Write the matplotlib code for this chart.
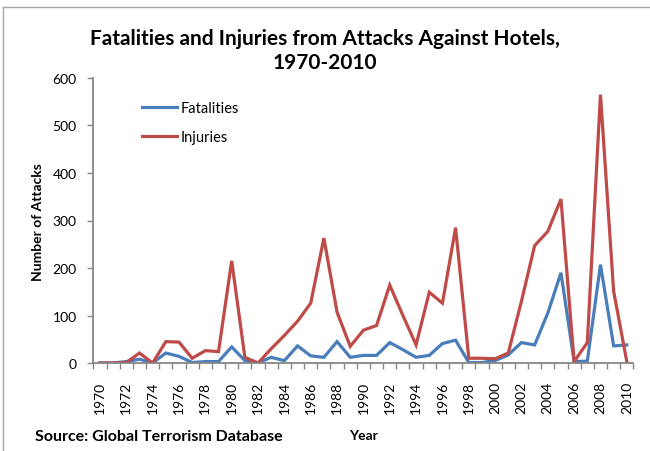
import numpy as np
import matplotlib
matplotlib.use("Agg")
import matplotlib.pyplot as plt
from matplotlib.lines import Line2D

plt.rcParams['font.family'] = ['Lato', 'DejaVu Sans']

# data
years = list(range(1970, 2011))
fatalities = [0, 0, 3, 8, 0, 21, 14, 1, 3, 3,
              34, 5, 0, 12, 5, 36, 15, 12, 45, 12,
              16, 16, 43, 28, 12, 16, 41, 48, 1, 1,
              5, 17, 43, 38, 105, 190, 3, 4, 207, 36,
              38]
injuries = [0, 0, 1, 21, 0, 45, 44, 10, 26, 24,
            215, 12, 0, 30, 58, 88, 126, 263, 107, 35,
            69, 79, 164, 100, 38, 149, 126, 285, 10, 10,
            9, 21, 130, 247, 277, 345, 3, 43, 565, 151,
            3]
year_labels = years[::2]
y_ticks = [0, 100, 200, 300, 400, 500, 600]

W, H = 650, 452
fig = plt.figure(figsize=(W / 100, H / 100), dpi=100)
ax = fig.add_axes([93.4 / W, 1 - 364 / H, 540 / W, 285 / H])

ax.plot(years, fatalities, color='#4A7EBB', lw=2.3, label='Fatalities', solid_joinstyle='miter')
ax.plot(years, injuries, color='#BE4B48', lw=2.3, label='Injuries', solid_joinstyle='miter')

ax.set_xlim(1969.5, 2010.5)
ax.set_ylim(0, 600)

# axes styling (Excel look)
for s in ['top', 'right']:
    ax.spines[s].set_visible(False)
for s in ['left', 'bottom']:
    ax.spines[s].set_color('#868686')
    ax.spines[s].set_linewidth(1.3)

ax.set_yticks(y_ticks)
ax.tick_params(axis='y', length=4, width=1, color='#868686', pad=8, labelsize=10)
ax.set_xticks(year_labels)
ax.set_xticklabels([str(y) for y in year_labels], rotation=90, va='top')
ax.tick_params(axis='x', which='major', length=0, pad=13, labelsize=10)
ax.set_xticks(np.arange(1969.5, 2011, 1), minor=True)
ax.tick_params(axis='x', which='minor', length=4, width=1, color='#868686')

ax.legend(loc='upper left', bbox_to_anchor=(142 / W, 1 - 102 / H), bbox_transform=fig.transFigure,
          frameon=False, borderpad=0, borderaxespad=0, handlelength=2.4, handletextpad=0.25,
          labelspacing=1.02, fontsize=10.5)

fig.text(325 / W, 1 - 51 / H, 'Fatalities and Injuries from Attacks Against Hotels,\n1970-2010',
         ha='center', va='center', fontsize=15, fontweight='bold', linespacing=1.3)
fig.text(38 / W, 1 - 222 / H, 'Number of Attacks', rotation=90, ha='center', va='center',
         fontsize=10, fontweight='bold')
fig.text(35 / W, 1 - 437 / H, 'Source: Global Terrorism Database', ha='left', va='center',
         fontsize=11.5, fontweight='bold')
fig.text(363 / W, 1 - 436 / H, 'Year', ha='center', va='center', fontsize=10, fontweight='bold')

# chart area frame (top and left edge visible)
fig.add_artist(Line2D([3 / W, 1], [1 - 8 / H, 1 - 8 / H], transform=fig.transFigure, color='#a6a6a6', lw=1))
fig.add_artist(Line2D([3 / W, 3 / W], [0, 1 - 8 / H], transform=fig.transFigure, color='#a6a6a6', lw=1))

fig.savefig('out.png', dpi=100)
